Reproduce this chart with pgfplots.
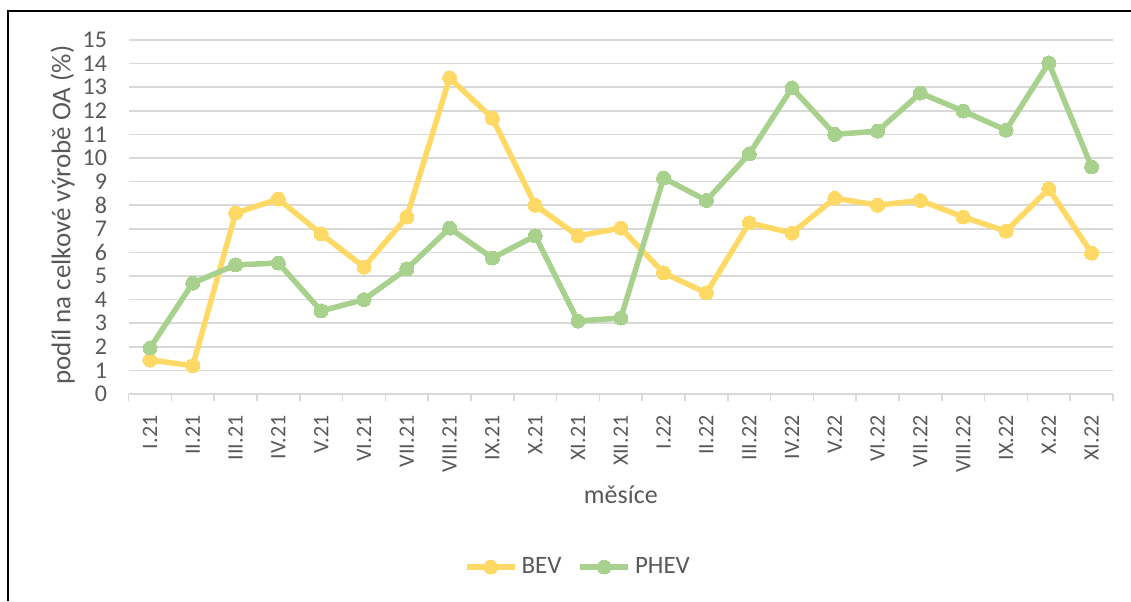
\documentclass[border=0pt]{standalone}
\usepackage{pgfplots}
\pgfplotsset{compat=1.18}
\usepackage{fontspec}
\setmainfont{Carlito}
\definecolor{bev}{HTML}{FFD966}
\definecolor{phev}{HTML}{A9D18E}
\definecolor{txt}{HTML}{595959}
\definecolor{gridc}{HTML}{D9D9D9}
\begin{document}
\begin{tikzpicture}
\useasboundingbox (0,0) rectangle (565.5pt,300.5pt);
\draw[line width=1pt, black] (4pt,0) -- (4pt,295pt) -- (566pt,295pt);
\begin{axis}[
  at={(64.3pt,103.5pt)}, anchor=south west,
  scale only axis, width=492.2pt, height=177pt,
  xmin=-0.5, xmax=22.5, ymin=0, ymax=15,
  xtick={0,...,22},
  xticklabels={I.21,II.21,III.21,IV.21,V.21,VI.21,VII.21,VIII.21,IX.21,X.21,XI.21,XII.21,I.22,II.22,III.22,IV.22,V.22,VI.22,VII.22,VIII.22,IX.22,X.22,XI.22},
  minor xtick={-0.5,0.5,...,22.5},
  major x tick style={draw=none},
  minor x tick style={color=gridc, line width=0.75pt},
  minor tick length=3.5pt,
  tick align=outside,
  ytick={0,1,...,15},
  ymajorgrids, major grid style={color=gridc, line width=0.75pt},
  y tick style={draw=none},
  axis lines*=left,
  x axis line style={color=gridc, line width=0.75pt},
  y axis line style={draw=none},
  /pgf/number format/assume math mode=true,
  xticklabel style={rotate=90, anchor=east, xshift=-3pt, font=\fontsize{11}{13}\selectfont, text=txt},
  yticklabel style={xshift=-3pt, font=\fontsize{12}{14}\selectfont, text=txt},
  ylabel={podíl na celkové výrobě OA (\%)},
  ylabel style={at={(axis description cs:-0.067,0.5056)}, anchor=center, font=\fontsize{13.5}{15}\selectfont, text=txt},
  xlabel={měsíce},
  xlabel style={at={(axis description cs:0.5,-0.285)}, anchor=center, font=\fontsize{13}{15}\selectfont, text=txt},
  legend style={at={(0.4575,-0.4887)}, anchor=center, draw=none, legend columns=2, font=\fontsize{12.5}{14}\selectfont, text=txt, /tikz/every even column/.append style={column sep=6pt}},
  legend image code/.code={\draw[#1] (0pt,0pt) -- (24pt,0pt); \draw[#1, mark repeat=2, mark phase=2] plot coordinates {(0pt,0pt) (12pt,0pt) (24pt,0pt)};},
  clip=false,
]
\addplot[color=bev, line width=2.75pt, mark=*, mark size=3.5pt, mark options={fill=bev, draw=bev, line width=0pt}] coordinates {
(0,1.44) (1,1.2) (2,7.67) (3,8.26) (4,6.78) (5,5.38) (6,7.5) (7,13.39) (8,11.69) (9,8.0) (10,6.7) (11,7.03) (12,5.13) (13,4.28) (14,7.25) (15,6.82) (16,8.3) (17,8.0) (18,8.2) (19,7.5) (20,6.9) (21,8.69) (22,5.97)
};
\addlegendentry{BEV}
\addplot[color=phev, line width=2.75pt, mark=*, mark size=3.5pt, mark options={fill=phev, draw=phev, line width=0pt}] coordinates {
(0,1.95) (1,4.7) (2,5.47) (3,5.55) (4,3.52) (5,4.0) (6,5.3) (7,7.03) (8,5.76) (9,6.7) (10,3.09) (11,3.22) (12,9.15) (13,8.2) (14,10.17) (15,12.97) (16,11.0) (17,11.14) (18,12.75) (19,11.99) (20,11.18) (21,14.03) (22,9.62)
};
\addlegendentry{PHEV}
\end{axis}
\end{tikzpicture}
\end{document}
